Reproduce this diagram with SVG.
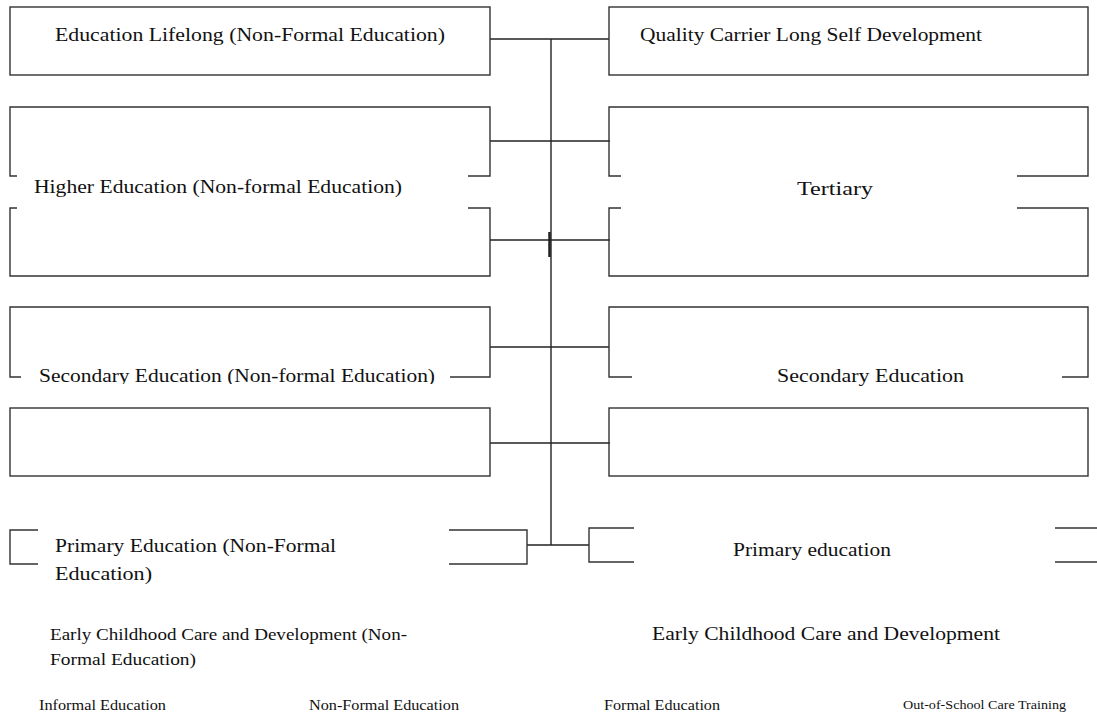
<svg xmlns="http://www.w3.org/2000/svg" width="1097" height="715" viewBox="0 0 1097 715">
<style>
.b{fill:none;stroke:#333;stroke-width:1.4}
.c{fill:none;stroke:#222;stroke-width:1.4}
text{font-family:'Liberation Serif','Times New Roman',serif;fill:#111}
.l{font-size:19px}
.s{font-size:16px}
.x{font-size:14px}
</style>
<defs>
<clipPath id="clipSec"><rect x="0" y="360" width="560" height="24"/></clipPath>
</defs>
<rect width="1097" height="715" fill="#fff"/>
<g id="connectors">
<line class="c" x1="551" y1="39" x2="551" y2="545"/>
<line class="c" x1="549.5" y1="232" x2="549.5" y2="257" style="stroke-width:2.5"/>
<line class="c" x1="490" y1="39" x2="609" y2="39"/>
<line class="c" x1="490" y1="141" x2="610" y2="141"/>
<line class="c" x1="490" y1="240" x2="610" y2="240"/>
<line class="c" x1="490" y1="347" x2="609" y2="347"/>
<line class="c" x1="490" y1="443" x2="610" y2="443"/>
<line class="c" x1="527" y1="545" x2="589" y2="545"/>
</g>
<g font-family="Liberation Serif, Times New Roman, serif">
<g id="node-lifelong">
<rect class="b" x="10" y="7" width="480" height="68"/>
<text class="l" x="55" y="41" textLength="390" lengthAdjust="spacingAndGlyphs">Education Lifelong (Non-Formal Education)</text>
</g>
<g id="node-quality">
<rect class="b" x="609" y="7" width="479" height="68"/>
<text class="l" x="640" y="41" textLength="342" lengthAdjust="spacingAndGlyphs">Quality Carrier Long Self Development</text>
</g>
<g id="node-higher">
<path class="b" d="M17,176 H10 V107 H490 V176 H468 M17,208 H10 V276 H490 V208 H468"/>
<text class="l" x="34" y="193" textLength="368" lengthAdjust="spacingAndGlyphs">Higher Education (Non-formal Education)</text>
</g>
<g id="node-tertiary">
<path class="b" d="M621,176 H609 V107 H1088 V176 H1017 M621,208 H609 V276 H1088 V208 H1017"/>
<text class="l" x="797" y="195" textLength="76" lengthAdjust="spacingAndGlyphs">Tertiary</text>
</g>
<g id="node-secondary-nf">
<path class="b" d="M21,377 H10 V307 H490 V377 H450"/>
<rect class="b" x="10" y="408" width="480" height="68"/>
<g clip-path="url(#clipSec)"><text class="l" x="39" y="382" textLength="396" lengthAdjust="spacingAndGlyphs">Secondary Education (Non-formal Education)</text></g>
</g>
<g id="node-secondary">
<path class="b" d="M632,377 H609 V307 H1088 V377 H1062"/>
<rect class="b" x="609" y="408" width="479" height="68"/>
<text class="l" x="777" y="382" textLength="187" lengthAdjust="spacingAndGlyphs">Secondary Education</text>
</g>
<g id="node-primary-nf">
<path class="b" d="M38,530 H10 V564 H38 M449,530 H527 V564 H449"/>
<text class="l" x="55" y="552" textLength="281" lengthAdjust="spacingAndGlyphs">Primary Education (Non-Formal</text>
<text class="l" x="55" y="580" textLength="97" lengthAdjust="spacingAndGlyphs">Education)</text>
</g>
<g id="node-primary">
<path class="b" d="M634,528 H589 V562 H634 M1055,528 H1097 M1055,562 H1097"/>
<text class="l" x="733" y="556" textLength="158" lengthAdjust="spacingAndGlyphs">Primary education</text>
</g>
<g id="node-ecd-nf">
<text class="s" x="50" y="640" textLength="357" lengthAdjust="spacingAndGlyphs">Early Childhood Care and Development (Non-</text>
<text class="s" x="50" y="665" textLength="146" lengthAdjust="spacingAndGlyphs">Formal Education)</text>
</g>
<g id="node-ecd">
<text class="l" x="652" y="640" textLength="348" lengthAdjust="spacingAndGlyphs">Early Childhood Care and Development</text>
</g>
<g id="node-legend">
<text class="x" x="39" y="710" textLength="127" lengthAdjust="spacingAndGlyphs">Informal Education</text>
<text class="x" x="309" y="710" textLength="150" lengthAdjust="spacingAndGlyphs">Non-Formal Education</text>
<text class="x" x="604" y="710" textLength="116" lengthAdjust="spacingAndGlyphs">Formal Education</text>
<text style="font-size:12px" x="903" y="709" textLength="163" lengthAdjust="spacingAndGlyphs">Out-of-School  Care Training</text>
</g>
</g>
</svg>
